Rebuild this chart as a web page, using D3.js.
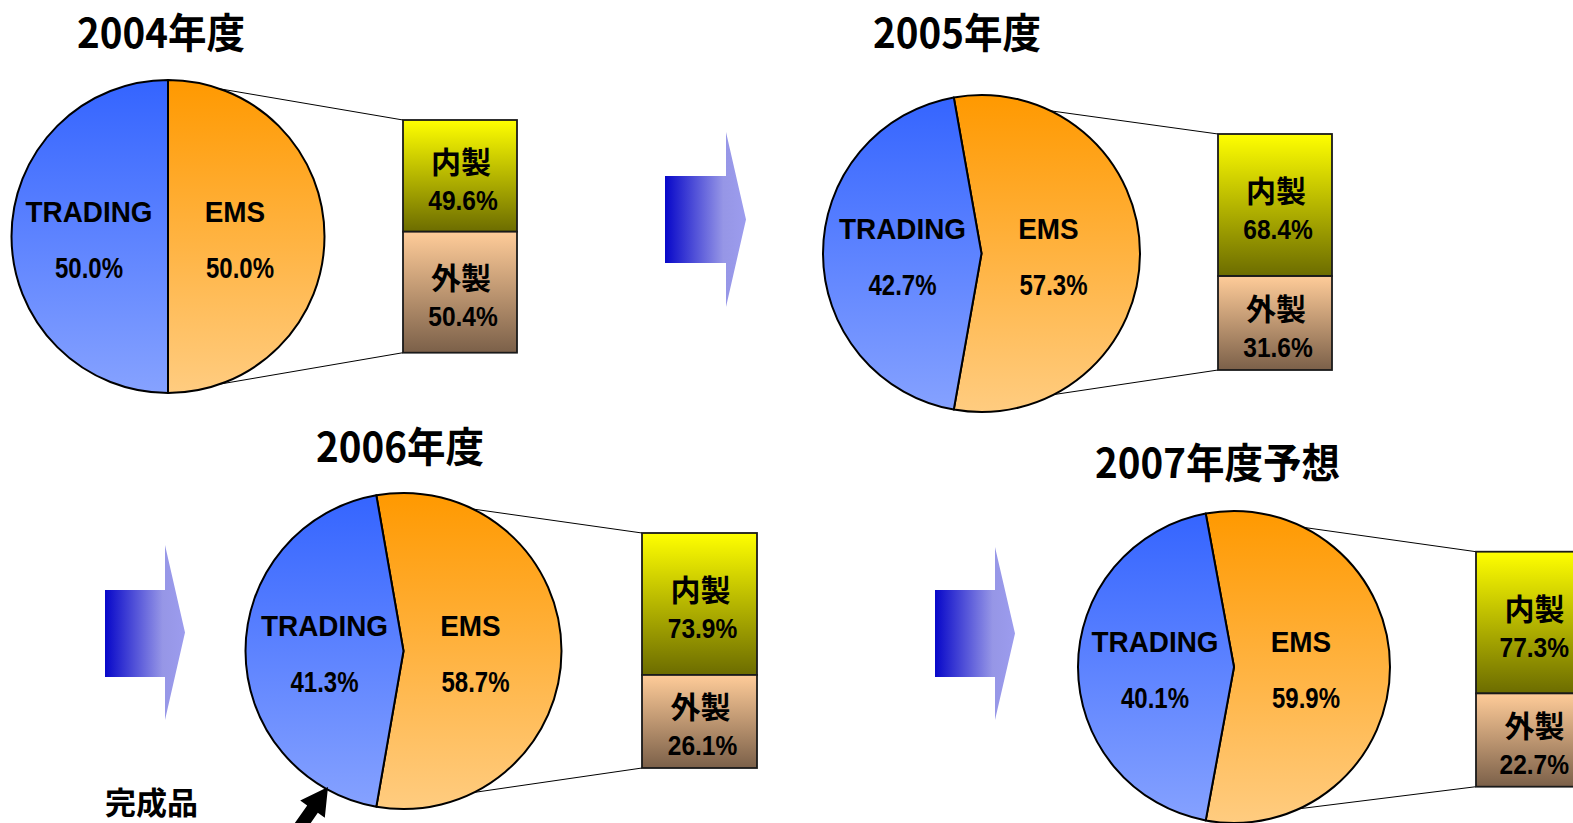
<!DOCTYPE html>
<html><head><meta charset="utf-8">
<script src="https://cdn.jsdelivr.net/npm/d3@7"></script>
<style>html,body{margin:0;padding:0;background:#fff;overflow:hidden}</style>
</head><body><svg id="c" width="1573" height="823"></svg>
<script>
// ---------------- data ----------------
const years = ["2004年度", "2005年度", "2006年度", "2007年度予想"];
const segmentNames = ["TRADING", "EMS"];
const tradingPct = [50.0, 42.7, 41.3, 40.1];
const emsPct = [50.0, 57.3, 58.7, 59.9];
const barNames = ["内製", "外製"];
const inhousePct = [49.6, 68.4, 73.9, 77.3];
const outsourcedPct = [50.4, 31.6, 26.1, 22.7];
// shares as they are actually drawn in the picture (slice angle / bar split)
const emsSliceDrawn = [50.0, 55.6, 55.5, 55.8];
const inhouseBarDrawn = [48.0, 60.2, 60.4, 60.3];
const noteText = "完成品";

// ---------------- layout ----------------
const W = 1573;
const layout = [
  {cx:168,   cy:236.5, r:156.5, bx:403,  bw:114, bt:120,   bb:352.7, tx:77,   ty:48},
  {cx:981.5, cy:253.5, r:158.5, bx:1218, bw:114, bt:134,   bb:370,   tx:873,  ty:48},
  {cx:403.5, cy:651,   r:158,   bx:642,  bw:115, bt:533,   bb:768,   tx:316,  ty:462},
  {cx:1234,  cy:667,   r:156,   bx:1476, bw:115, bt:551.7, bb:786.7, tx:1095, ty:478}
];
const arrowLayout = [
  {x:665, y0:176, y1:263, hx:726, ht:132, hb:307, tip:746},
  {x:105, y0:590, y1:677, hx:165, ht:545, hb:720, tip:185},
  {x:935, y0:590, y1:677, hx:995, ht:547, hb:720, tip:1015}
];

const svg = d3.select("#c");
const defs = svg.append("defs");
const LATIN = "'Liberation Sans', Arial, sans-serif";
const CJK = "'Noto Sans CJK JP', 'Noto Sans CJK SC', sans-serif";

// single-font label, optionally condensed horizontally by sx; kept inside the page
function label(parent, str, x, y, size, family, sx, anchor) {
  const t = parent.append("text").text(str)
    .attr("font-weight", "bold").attr("font-size", size).attr("fill", "#000")
    .attr("font-family", family).attr("y", y);
  const w = t.node().getComputedTextLength() * sx;
  if (sx !== 1) t.attr("textLength", w).attr("lengthAdjust", "spacingAndGlyphs");
  let x0 = anchor === "middle" ? x - w / 2 : x;
  x0 = Math.min(x0, W - 4 - w);
  t.attr("x", x0);
  return t;
}

function vGrad(id, y0, y1, c0, c1) {
  const g = defs.append("linearGradient").attr("id", id)
    .attr("gradientUnits", "userSpaceOnUse")
    .attr("x1", 0).attr("x2", 0).attr("y1", y0).attr("y2", y1);
  g.append("stop").attr("offset", 0).attr("stop-color", c0);
  g.append("stop").attr("offset", 1).attr("stop-color", c1);
}

// ---------------- block arrows ----------------
arrowLayout.forEach((a, i) => {
  const g = defs.append("linearGradient").attr("id", "ag" + i)
    .attr("gradientUnits", "userSpaceOnUse")
    .attr("x1", a.x).attr("x2", a.tip).attr("y1", 0).attr("y2", 0);
  g.append("stop").attr("offset", 0).attr("stop-color", "#0707c9");
  g.append("stop").attr("offset", 0.72).attr("stop-color", "#9696e6");
  g.append("stop").attr("offset", 1).attr("stop-color", "#9c9cee");
  const my = (a.ht + a.hb) / 2;
  svg.append("path")
    .attr("d", `M${a.x},${a.y0}H${a.hx}V${a.ht}L${a.tip},${my}L${a.hx},${a.hb}V${a.y1}H${a.x}Z`)
    .attr("fill", `url(#ag${i})`);
});

// title width factor: first title should span ~168px
const TITLE_SIZE = 41;
let titleSx = 1;
{
  const probe = svg.append("text").text(years[0]).attr("font-weight", "bold")
    .attr("font-size", TITLE_SIZE).attr("font-family", CJK);
  titleSx = Math.max(0.85, Math.min(1.06, 168 / probe.node().getComputedTextLength()));
  probe.remove();
}

// ---------------- charts ----------------
years.forEach((year, i) => {
  const L = layout[i];
  const s = emsSliceDrawn[i] / 100;
  const a0 = Math.PI / 2 - s * Math.PI;
  const pie = d3.pie().sort(null).value(d => d)
    .startAngle(a0).endAngle(a0 + 2 * Math.PI);
  const arcs = pie([emsSliceDrawn[i], 100 - emsSliceDrawn[i]]);
  const arc = d3.arc().innerRadius(0).outerRadius(L.r);

  // pie gradients in the pie group's local space (centre at 0,0)
  vGrad("ems" + i, -L.r, L.r, "#ff9900", "#ffcc80");
  vGrad("trd" + i, -L.r, L.r, "#3464ff", "#86a2ff");

  const y = d3.scaleLinear().domain([0, 100]).range([L.bt, L.bb]);
  const split = y(inhouseBarDrawn[i]);
  vGrad("inn" + i, L.bt, split, "#ffff00", "#6c6c00");
  vGrad("out" + i, split, L.bb, "#ffcc99", "#7b6049");

  // series lines (behind pie)
  const e = arcs[0];
  const pTop = [L.cx + L.r * Math.sin(e.startAngle), L.cy - L.r * Math.cos(e.startAngle)];
  const pBot = [L.cx + L.r * Math.sin(e.endAngle), L.cy - L.r * Math.cos(e.endAngle)];
  svg.append("line").attr("x1", pTop[0]).attr("y1", pTop[1]).attr("x2", L.bx).attr("y2", y(0))
    .attr("stroke", "#000").attr("stroke-width", 1);
  svg.append("line").attr("x1", pBot[0]).attr("y1", pBot[1]).attr("x2", L.bx).attr("y2", y(100))
    .attr("stroke", "#000").attr("stroke-width", 1);

  const g = svg.append("g").attr("transform", `translate(${L.cx},${L.cy})`);
  g.selectAll("path").data(arcs).join("path")
    .attr("d", arc)
    .attr("fill", (d, k) => k === 0 ? `url(#ems${i})` : `url(#trd${i})`)
    .attr("stroke", "#000").attr("stroke-width", 2).attr("stroke-linejoin", "round");

  // labels
  label(svg, segmentNames[0], L.cx - 79, L.cy - 15, 30, LATIN, 0.93, "middle");
  label(svg, tradingPct[i].toFixed(1) + "%", L.cx - 79, L.cy + 41, 30, LATIN, 0.8, "middle");
  label(svg, segmentNames[1], L.cx + 67, L.cy - 15, 30, LATIN, 0.93, "middle");
  label(svg, emsPct[i].toFixed(1) + "%", L.cx + 72, L.cy + 41, 30, LATIN, 0.8, "middle");

  // bar of pie
  const segs = [
    {name: barNames[0], v0: 0, v1: inhouseBarDrawn[i], pct: inhousePct[i], fill: `url(#inn${i})`},
    {name: barNames[1], v0: inhouseBarDrawn[i], v1: 100, pct: outsourcedPct[i], fill: `url(#out${i})`}
  ];
  svg.append("g").selectAll("rect").data(segs).join("rect")
    .attr("x", L.bx).attr("width", L.bw)
    .attr("y", d => y(d.v0)).attr("height", d => y(d.v1) - y(d.v0))
    .attr("fill", d => d.fill).attr("stroke", "#1a1a1a").attr("stroke-width", 1.8);
  segs.forEach(d => {
    const mid = (y(d.v0) + y(d.v1)) / 2;
    const bcx = L.bx + L.bw / 2 + 1;
    label(svg, d.name, bcx, mid - 3, 30, CJK, 1, "middle");
    label(svg, d.pct.toFixed(1) + "%", bcx + 2, mid + 34, 28.5, LATIN, 0.86, "middle");
  });

  // title
  label(svg, year, L.tx, L.ty, TITLE_SIZE, CJK, titleSx, "start");
});

// note + pointer arrow
label(svg, noteText, 105, 814, 31, CJK, 1, "start");
(function () {
  const T = [328, 787], ang = 55 * Math.PI / 180;
  const d = [Math.cos(ang), -Math.sin(ang)], n = [Math.sin(ang), Math.cos(ang)];
  const B = [T[0] - 27 * d[0], T[1] - 27 * d[1]];
  const tail = [T[0] - 90 * d[0], T[1] - 90 * d[1]];
  const p = (P, k) => [P[0] + k * n[0], P[1] + k * n[1]];
  const pts = [T, p(B, 15), p(B, 6.5), p(tail, 6.5), p(tail, -6.5), p(B, -6.5), p(B, -15)];
  svg.append("path").attr("d", "M" + pts.map(q => q.join(",")).join("L") + "Z").attr("fill", "#000");
})();
</script>
</body></html>
